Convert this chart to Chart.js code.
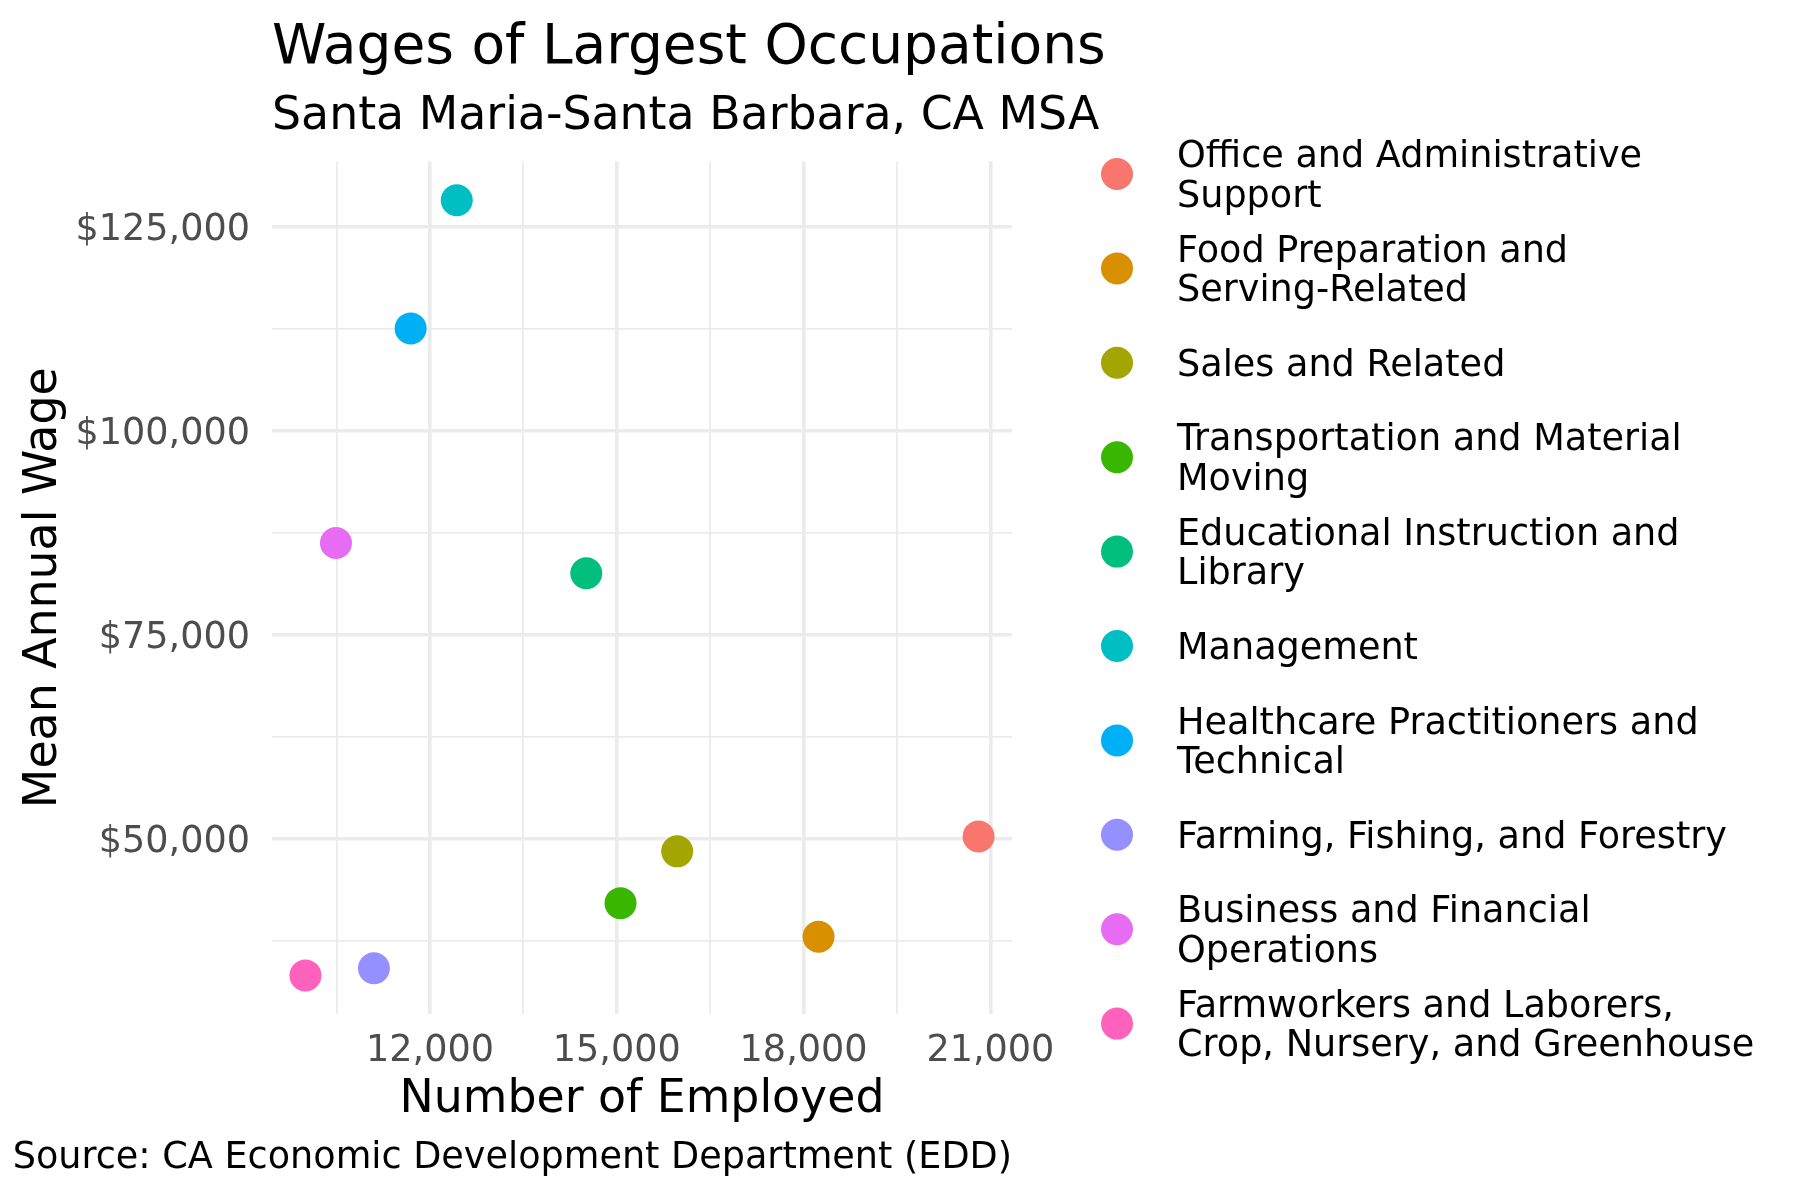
<!DOCTYPE html>
<html>
<head>
<meta charset="utf-8">
<script src="https://cdn.jsdelivr.net/npm/chart.js@4/dist/chart.umd.min.js"></script>
<style>
  html, body { margin: 0; padding: 0; background: #ffffff; }
  #wrap { width: 1800px; height: 1200px; }
</style>
</head>
<body>
<div id="wrap"><canvas id="c" width="1800" height="1200"></canvas></div>
<script>
// ---- Data ----
const categories = [
  'Office and Administrative Support',
  'Food Preparation and Serving-Related',
  'Sales and Related',
  'Transportation and Material Moving',
  'Educational Instruction and Library',
  'Management',
  'Healthcare Practitioners and Technical',
  'Farming, Fishing, and Forestry',
  'Business and Financial Operations',
  'Farmworkers and Laborers, Crop, Nursery, and Greenhouse'
];
const employed = [20810, 18240, 15970, 15060, 14510, 12430, 11690, 11100, 10490, 10000];
const wages = [50330, 38050, 48510, 42170, 82570, 128270, 112570, 34200, 86280, 33320];
const colors = ['#F8766D', '#D89000', '#A3A500', '#39B600', '#00BF7D',
                '#00BFC4', '#00B0F6', '#9590FF', '#E76BF3', '#FF62BC'];
// grid lines (major + minor) and labelled major ticks
const xGridValues = [10500, 12000, 13500, 15000, 16500, 18000, 19500, 21000];
const yGridValues = [37500, 50000, 62500, 75000, 87500, 100000, 112500, 125000];
const xTickValues = [12000, 15000, 18000, 21000];
const xTickLabels = ['12,000', '15,000', '18,000', '21,000'];
const yTickValues = [50000, 75000, 100000, 125000];
const yTickLabels = ['$50,000', '$75,000', '$100,000', '$125,000'];
const titleText = 'Wages of Largest Occupations';
const subtitleText = 'Santa Maria-Santa Barbara, CA MSA';
const captionText = 'Source: CA Economic Development Department (EDD)';
const xTitle = 'Number of Employed';
const yTitle = 'Mean Annual Wage';

// ---- helpers ----
function wrapText(s, width) {
  const words = s.split(' ');
  const lines = [];
  let cur = '';
  for (const w of words) {
    if (cur === '') cur = w;
    else if ((cur + ' ' + w).length <= width) cur += ' ' + w;
    else { lines.push(cur); cur = w; }
  }
  if (cur) lines.push(cur);
  return lines;
}

const FONT = "'DejaVu Sans', 'Liberation Sans', sans-serif";
Chart.defaults.font.family = FONT;
const SMALL = 36.6, BASE = 45.8, BIG = 55;

const datasets = categories.map((name, i) => ({
  label: name,
  data: [{ x: employed[i], y: wages[i] }],
  backgroundColor: colors[i],
  borderWidth: 0,
  pointRadius: 16,
  pointHoverRadius: 16
}));

const decorPlugin = {
  id: 'decor',
  afterDraw(chart) {
    const ctx = chart.ctx;
    const area = chart.chartArea;
    ctx.save();
    ctx.fillStyle = '#000000';
    ctx.textAlign = 'left';
    ctx.textBaseline = 'alphabetic';
    ctx.font = BIG + 'px ' + FONT;
    ctx.fillText(titleText, area.left, 63);
    ctx.font = BASE + 'px ' + FONT;
    ctx.fillText(subtitleText, area.left, 129);
    ctx.font = SMALL + 'px ' + FONT;
    ctx.textAlign = 'right';
    ctx.fillText(captionText, area.right, 1168);

    // legend
    ctx.textAlign = 'left';
    ctx.textBaseline = 'middle';
    ctx.font = SMALL + 'px ' + FONT;
    const lx = 1117, tx = 1177, y0 = 174, step = 94.4, lineH = 39.5, tOff = 3.5;
    categories.forEach((name, i) => {
      const cy = y0 + i * step;
      ctx.fillStyle = colors[i];
      ctx.beginPath();
      ctx.arc(lx, cy, 16, 0, Math.PI * 2);
      ctx.fill();
      ctx.fillStyle = '#000000';
      const lines = wrapText(name, 30);
      const startY = cy + tOff - (lines.length - 1) * lineH / 2;
      lines.forEach((ln, k) => ctx.fillText(ln, tx, startY + k * lineH));
    });
    ctx.restore();
  }
};

new Chart(document.getElementById('c'), {
  type: 'scatter',
  data: { datasets },
  plugins: [decorPlugin],
  options: {
    responsive: false,
    animation: false,
    events: [],
    layout: { padding: { left: 11, top: 161.5, right: 788, bottom: 72.4 } },
    plugins: {
      legend: { display: false },
      title: { display: false },
      tooltip: { enabled: false }
    },
    scales: {
      x: {
        type: 'linear',
        min: 9463,
        max: 21347,
        border: { display: false },
        grid: {
          color: '#EBEBEB',
          drawTicks: false,
          lineWidth: (c) => (c.tick && xTickValues.includes(c.tick.value)) ? 3.6 : 1.8
        },
        afterBuildTicks: (s) => { s.ticks = xGridValues.map(v => ({ value: v })); },
        ticks: {
          autoSkip: false,
          maxRotation: 0,
          padding: 16,
          color: '#4D4D4D',
          font: { size: SMALL, family: FONT },
          callback: (v) => { const i = xTickValues.indexOf(v); return i >= 0 ? xTickLabels[i] : ''; }
        },
        title: {
          display: true,
          text: xTitle,
          color: '#000000',
          font: { size: BASE, family: FONT },
          padding: { top: 0, bottom: 0 }
        },
        afterFit: (s) => { s.height = 113.6; }
      },
      y: {
        type: 'linear',
        min: 28590,
        max: 133010,
        border: { display: false },
        grid: {
          color: '#EBEBEB',
          drawTicks: false,
          lineWidth: (c) => (c.tick && yTickValues.includes(c.tick.value)) ? 3.6 : 1.8
        },
        afterBuildTicks: (s) => { s.ticks = yGridValues.map(v => ({ value: v })); },
        ticks: {
          autoSkip: false,
          padding: 22,
          labelOffset: 3.5,
          color: '#4D4D4D',
          font: { size: SMALL, family: FONT },
          callback: (v) => { const i = yTickValues.indexOf(v); return i >= 0 ? yTickLabels[i] : ''; }
        },
        title: {
          display: true,
          text: yTitle,
          color: '#000000',
          font: { size: BASE, family: FONT },
          padding: { top: 6, bottom: 0 }
        },
        afterFit: (s) => { s.width = 261; }
      }
    }
  }
});
</script>
</body>
</html>
